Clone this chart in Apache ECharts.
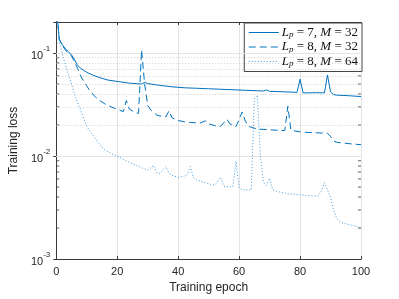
<!DOCTYPE html>
<html>
<head>
<meta charset="utf-8">
<script src="https://cdn.jsdelivr.net/npm/echarts@6/dist/echarts.min.js"></script>
<style>html,body{margin:0;padding:0;background:#fff}#c{width:399px;height:299px}</style>
</head>
<body>
<div id="c"></div>
<script>
// ---- data ----
const xTicks = [0, 20, 40, 60, 80, 100];
const yMajor = [0.001, 0.01, 0.1];
const yMinor = [0.002,0.003,0.004,0.005,0.006,0.007,0.008,0.009,
                0.02,0.03,0.04,0.05,0.06,0.07,0.08,0.09];

const seriesNames = ['Lp = 7, M = 32', 'Lp = 8, M = 32', 'Lp = 8, M = 64'];

const epochsA = [0,1,2,3,4,5,6,7,8,9,10,12,14,17,20,24,28,29,30,34,38,42,46,50,54,58,62,66,68,69,70,75,79,80,81,85,88,89,90,91,92,96,100];
const lossA   = [0.30,0.135,0.12,0.11,0.103,0.096,0.086,0.076,0.071,0.068,0.065,0.061,0.058,0.0546,0.053,0.051,0.050,0.052,0.0505,0.0485,0.047,0.046,0.0455,0.045,0.0445,0.044,0.0435,0.043,0.0428,0.0438,0.0425,0.042,0.0415,0.0558,0.041,0.0412,0.041,0.0612,0.042,0.0395,0.039,0.0385,0.0378];

const epochsB = [0,1,2,3,4,5,6,7,8,9,10,11,12,13,14,15,16,18,20,22,23,24,25,26,27,28,29,30,31,32,33,34,35,36,37,38,39,40,42,44,46,47,49,50,52,53,54,56,57,59,61,62,63,64,66,70,74,75,76,77,78,80,82,86,89,90,91,92,94,97,100];
const lossB   = [0.30,0.135,0.118,0.107,0.099,0.094,0.082,0.071,0.060,0.053,0.048,0.043,0.040,0.037,0.035,0.0335,0.032,0.030,0.0285,0.027,0.0345,0.0285,0.0275,0.0262,0.026,0.107,0.050,0.031,0.028,0.0265,0.025,0.0245,0.0245,0.024,0.0275,0.0235,0.0228,0.0222,0.0215,0.0212,0.021,0.0208,0.022,0.0205,0.0198,0.0193,0.0195,0.0228,0.0205,0.0193,0.0268,0.022,0.0195,0.019,0.0183,0.018,0.0177,0.0177,0.0305,0.0178,0.0176,0.0172,0.017,0.0168,0.0166,0.0155,0.0140,0.0136,0.0134,0.0131,0.0129];

const epochsC = [0,1,2,3,4,5,6,7,8,9,10,11,12,13,14,15,16,18,20,22,24,26,28,30,32,33,34,36,37,38,40,42,43,44,45,46,48,50,52,54,55,57,58,59,60,61,63,64,65,66,67,68,69,70,71,73,76,80,84,86,87,88,89,90,91,92,93,95,98,100];
const lossC   = [0.30,0.13,0.098,0.077,0.062,0.050,0.040,0.033,0.028,0.023,0.0195,0.0175,0.0160,0.0145,0.0133,0.0122,0.0115,0.0106,0.0100,0.0093,0.0087,0.0082,0.0077,0.0073,0.0081,0.0069,0.0068,0.0079,0.0068,0.0065,0.0062,0.0064,0.0066,0.0079,0.0062,0.0059,0.0056,0.0054,0.0052,0.0062,0.0051,0.0050,0.0051,0.0089,0.0049,0.0047,0.0047,0.0047,0.036,0.039,0.010,0.0055,0.0052,0.0061,0.0047,0.0045,0.0043,0.0042,0.0041,0.0041,0.0046,0.0055,0.0047,0.0040,0.0030,0.0025,0.0023,0.0022,0.0021,0.00202];

// ---- chart ----
const zip = (xs, ys) => xs.map((x, i) => [x, ys[i]]);
const axisColor = '#3a3a3a';
const txtColor = '#262626';
const font = 'Liberation Sans';
const blue = '#0072BD';
const blueLight = '#3d9be0';

const legendRich = {
  i: {fontFamily: 'Liberation Serif', fontStyle: 'italic', fontSize: 13, color: '#111', lineHeight: 14, verticalAlign: 'middle'},
  s: {fontFamily: 'Liberation Serif', fontStyle: 'italic', fontSize: 9, color: '#111', lineHeight: 14, verticalAlign: 'bottom'},
  n: {fontFamily: 'Liberation Serif', fontSize: 13, color: '#111', lineHeight: 14, verticalAlign: 'middle'}
};
const legendFmt = name => {
  const idx = seriesNames.indexOf(name);
  const lp = idx === 0 ? '7' : '8';
  const m = idx === 2 ? '64' : '32';
  return '{i|L}{s|p}{n| = ' + lp + ', }{i|M}{n| = ' + m + '}';
};

const yLabelFmt = v => {
  const l = Math.log10(v);
  const e = Math.round(l);
  if (Math.abs(l - e) > 1e-6) return '';
  return '{b|10}{sup|' + e + '}';
};
const yRich = {
  b: {fontFamily: font, fontSize: 11, color: txtColor, lineHeight: 16, verticalAlign: 'bottom'},
  sup: {fontFamily: font, fontSize: 8, color: txtColor, lineHeight: 16, verticalAlign: 'top'}
};

const lineBase = {type: 'line', showSymbol: false, symbol: 'none', clip: true, z: 5};

const chart = echarts.init(document.getElementById('c'), null, {renderer: 'canvas'});
chart.setOption({
  animation: false,
  backgroundColor: '#fff',
  grid: {left: 52, right: 38, top: 22, bottom: 34, containLabel: false},
  legend: {
    orient: 'vertical', right: 37, top: 23,
    backgroundColor: '#fff', borderColor: '#444', borderWidth: 1,
    padding: [3, 4, 3, 4], itemGap: 1, itemWidth: 30, itemHeight: 13,
    data: seriesNames, formatter: legendFmt,
    itemStyle: {color: 'rgba(0,0,0,0)', borderWidth: 0, borderColor: 'rgba(0,0,0,0)', opacity: 0},
    lineStyle: {width: 1},
    textStyle: {rich: legendRich, padding: [0, 0, 0, -2]}
  },
  xAxis: [{
    type: 'value', min: 0, max: 100, interval: 20, position: 'bottom',
    name: 'Training epoch', nameLocation: 'middle', nameGap: 20,
    nameTextStyle: {fontFamily: font, fontSize: 12, color: txtColor},
    axisLine: {show: true, lineStyle: {color: axisColor, width: 1}},
    axisTick: {show: true, inside: true, length: 3, lineStyle: {color: axisColor}},
    axisLabel: {fontFamily: font, fontSize: 11, color: txtColor, margin: 7},
    splitLine: {show: true, lineStyle: {color: '#e4e4e4', width: 1}}
  }, {
    type: 'value', min: 0, max: 100, interval: 20, position: 'top',
    axisLine: {show: true, lineStyle: {color: axisColor, width: 1}},
    axisTick: {show: true, inside: true, length: 3, lineStyle: {color: axisColor}},
    axisLabel: {show: false}, splitLine: {show: false}
  }],
  yAxis: [{
    type: 'log', logBase: 10, min: 0.001, max: 0.2, interval: 1, position: 'left',
    name: 'Training loss', nameLocation: 'middle', nameGap: 27,
    nameTextStyle: {fontFamily: font, fontSize: 12, color: txtColor},
    axisLine: {show: true, lineStyle: {color: axisColor, width: 1}},
    axisTick: {show: true, inside: true, length: 3, lineStyle: {color: axisColor}},
    axisLabel: {formatter: yLabelFmt, rich: yRich, margin: 6},
    splitLine: {show: false}
  }, {
    type: 'log', logBase: 10, min: 0.001, max: 0.2, interval: 1, position: 'right',
    axisLine: {show: true, lineStyle: {color: axisColor, width: 1}},
    axisTick: {show: true, inside: true, length: 3, lineStyle: {color: axisColor}},
    axisLabel: {show: false}, splitLine: {show: false}
  }],
  series: [
    Object.assign({}, lineBase, {name: seriesNames[0], data: zip(epochsA, lossA),
      lineStyle: {color: blue, width: 1, type: 'solid'}, itemStyle: {color: blue}}),
    Object.assign({}, lineBase, {name: seriesNames[1], data: zip(epochsB, lossB),
      lineStyle: {color: blue, width: 1, type: [7, 4]}, itemStyle: {color: blue}}),
    Object.assign({}, lineBase, {name: seriesNames[2], data: zip(epochsC, lossC),
      lineStyle: {color: blueLight, width: 1, type: [1, 2]}, itemStyle: {color: blueLight}}),
    {
      type: 'line', name: 'minorGrid', data: [], z: 1, silent: true,
      markLine: {silent: true, symbol: 'none', label: {show: false}, animation: false,
        lineStyle: {type: [1, 2], color: '#c4c4c4', width: 0.8},
        data: yMinor.map(v => ({yAxis: v}))}
    },
    {
      type: 'line', name: 'majorGrid', data: [], z: 1, silent: true,
      markLine: {silent: true, symbol: 'none', label: {show: false}, animation: false,
        lineStyle: {type: 'solid', color: '#e4e4e4', width: 1},
        data: yMajor.map(v => ({yAxis: v}))}
    },
    {
      type: 'scatter', name: 'minorTickL', silent: true, z: 3,
      data: yMinor.map(v => [0, v]), symbol: 'rect', symbolSize: [3, 1], symbolOffset: [1.5, 0],
      itemStyle: {color: axisColor}
    },
    {
      type: 'scatter', name: 'minorTickR', silent: true, z: 3,
      data: yMinor.map(v => [100, v]), symbol: 'rect', symbolSize: [3, 1], symbolOffset: [-1.5, 0],
      itemStyle: {color: axisColor}
    }
  ]
});
</script>
</body>
</html>
